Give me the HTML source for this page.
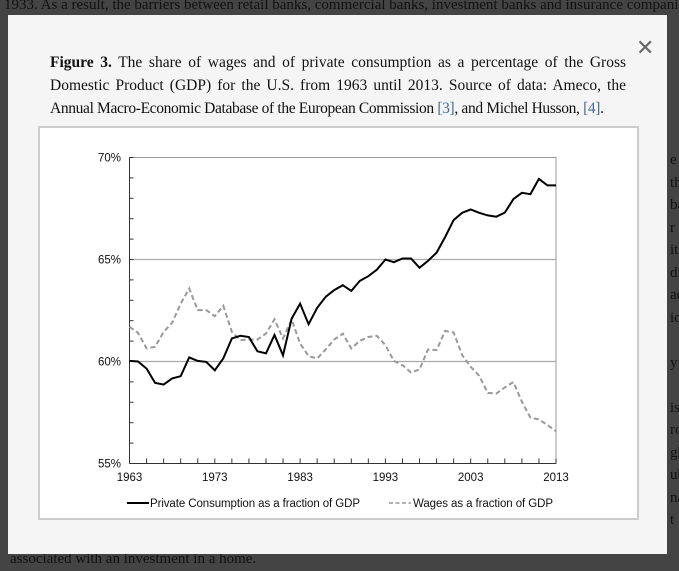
<!DOCTYPE html>
<html><head><meta charset="utf-8"><style>
body{margin:0;width:679px;height:567px;overflow:hidden;background:#444;position:relative;font-family:"Liberation Serif",serif}
.bg{position:absolute;left:0;font-size:15px;color:#111;white-space:nowrap;line-height:22.5px}
#modal{position:absolute;left:8px;top:15px;width:659px;height:539px;background:#f5f5f5}
#cap{position:absolute;left:42px;top:36px;width:576px;font-size:15.5px;line-height:23px;color:#111}
#cap div{white-space:nowrap}
#cap .j{text-align:justify;text-align-last:justify}
#close{position:absolute;left:628px;top:20px;font:22px "Liberation Sans",sans-serif;color:#666}
#box{position:absolute;left:30px;top:111px;width:597px;height:390px;background:#fff;border:2px solid #ccc}
</style></head><body>
<div class="bg" style="top:-6px;left:4px">1933. As a result, the barriers between retail banks, commercial banks, investment banks and insurance companies</div>
<div class="bg" style="top:149px;left:670px">e c<br>th<br>ba<br>r n<br>it i<br>di<br>ad<br>io<br><br>y<br><br>ist<br>ro<br>gh<br>ub<br>na<br>t</div>
<div class="bg" style="top:548px;left:10px">associated with an investment in a home.</div>
<div id="modal">
<div id="close">✕</div>
<div id="cap">
<div class="j"><b>Figure 3.</b> The share of wages and of private consumption as a percentage of the Gross</div>
<div class="j">Domestic Product (GDP) for the U.S. from 1963 until 2013. Source of data: Ameco, the</div>
<div style="letter-spacing:-0.35px">Annual Macro-Economic Database of the European Commission <span style="color:#4a6a9a">[3]</span>, and Michel Husson, <span style="color:#4a6a9a">[4]</span>.</div>
</div>
<div id="box"></div>
</div>
<svg id="chart" width="679" height="567" style="position:absolute;left:0;top:0"></svg>
<script>
const years=[];for(let y=1963;y<=2013;y++)years.push(y);
const consumption=[60.03,60.0,59.65,58.95,58.87,59.17,59.28,60.2,60.03,59.98,59.57,60.15,61.13,61.26,61.2,60.5,60.4,61.3,60.3,62.1,62.84,61.83,62.63,63.17,63.5,63.74,63.46,63.95,64.18,64.5,65.0,64.87,65.05,65.05,64.6,64.93,65.34,66.1,66.93,67.29,67.45,67.29,67.16,67.1,67.3,67.96,68.27,68.2,68.95,68.63,68.63];
const wages=[61.7,61.4,60.64,60.72,61.45,61.9,62.84,63.58,62.52,62.52,62.22,62.73,61.45,61.05,61.08,61.08,61.37,62.07,61.13,62.06,60.88,60.26,60.15,60.59,61.08,61.37,60.64,61.01,61.2,61.26,60.8,60.03,59.82,59.46,59.61,60.59,60.56,61.5,61.42,60.31,59.74,59.3,58.46,58.43,58.73,58.99,58.03,57.25,57.16,56.88,56.58];
const yTicks=[55,60,65,70];
const xTickLabels=[1963,1973,1983,1993,2003,2013];
const X0=129.5,X1=556,Y0=463.5,Y1=157.5;
const xs=y=>X0+(y-1963)/(2013-1963)*(X1-X0);
const ys=v=>Y0-(v-55)/(70-55)*(Y0-Y1);
const svg=document.getElementById('chart');const NS='http://www.w3.org/2000/svg';
function mk(t,a){const e=document.createElementNS(NS,t);for(const k in a)e.setAttribute(k,a[k]);svg.appendChild(e);return e;}
let fr=mk('rect',{x:X0,y:Y1,width:X1-X0,height:Y0-Y1,fill:'none',stroke:'#999','stroke-width':1});


yTicks.forEach(v=>{
 if(v>55&&v<70){const g=mk('line',{x1:X0,x2:X1,y1:ys(v),y2:ys(v),stroke:'#aaa','stroke-width':1.2});
 
 }
 const t=mk('text',{x:121,y:ys(v)+4,'text-anchor':'end','font-size':11.5,'font-family':'Liberation Sans, sans-serif',fill:'#111'});t.textContent=v+'%';
 
 
});
for(let v=55;v<=70;v++){const l=mk('line',{x1:X0,x2:X0+4,y1:ys(v),y2:ys(v),stroke:'#333'});
 
 }
for(let y=1963;y<=2013;y+=2){const l=mk('line',{x1:xs(y),x2:xs(y),y1:Y0,y2:Y0-5,stroke:'#333'});
 
 }
mk('line',{x1:X0,x2:X1,y1:Y0,y2:Y0,stroke:'#333'});
mk('line',{x1:X0,x2:X0,y1:Y0,y2:Y1,stroke:'#333'});
xTickLabels.forEach(y=>{const t=mk('text',{x:xs(y),y:481,'text-anchor':'middle','font-size':11.5,'font-family':'Liberation Sans, sans-serif',fill:'#111'});t.textContent=y;
 
 });
function path(arr){return arr.map((v,i)=>(i?'L':'M')+xs(years[i]).toFixed(1)+','+ys(v).toFixed(1)).join('');}
const w=mk('path',{d:path(wages),fill:'none',stroke:'#999','stroke-width':2,'stroke-dasharray':'5,3'});


const c=mk('path',{d:path(consumption),fill:'none',stroke:'#000','stroke-width':2});


mk('line',{x1:127,x2:149,y1:503,y2:503,stroke:'#000','stroke-width':2});
let t1=mk('text',{x:150,y:507,'font-size':11.5,'font-family':'Liberation Sans, sans-serif',fill:'#111','textLength':210});t1.textContent='Private Consumption as a fraction of GDP';


mk('line',{x1:389,x2:411,y1:503,y2:503,stroke:'#999','stroke-width':1.5,'stroke-dasharray':'4,2.5'});
let t2=mk('text',{x:413,y:507,'font-size':11.5,'font-family':'Liberation Sans, sans-serif',fill:'#111','textLength':140});t2.textContent='Wages as a fraction of GDP';


</script>
</body></html>
